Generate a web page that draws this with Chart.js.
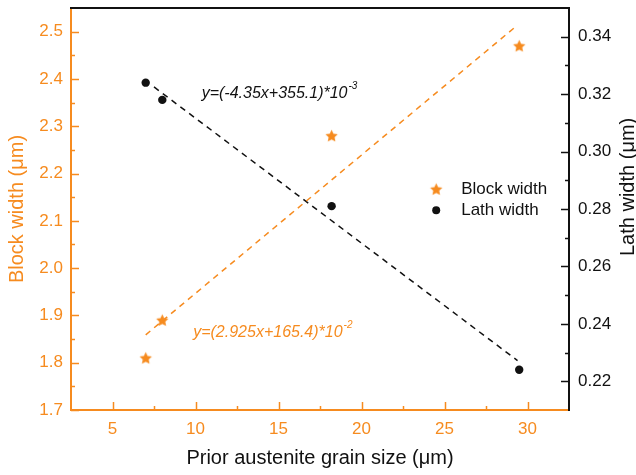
<!DOCTYPE html>
<html>
<head>
<meta charset="utf-8">
<script src="https://cdn.jsdelivr.net/npm/chart.js@4/dist/chart.umd.min.js"></script>
<style>
body { margin: 0; background: #fff; }
#wrap { width: 636px; height: 475px; }
</style>
</head>
<body>
<div id="wrap"><canvas id="grainChart"></canvas></div>
<script>
// Block and lath width against prior austenite grain size

var grainSize = [7, 8, 18.2, 29.5];
var blockWidth = [1.81, 1.89, 2.28, 2.47];
var lathWidth = [0.324, 0.318, 0.281, 0.224];

// end points of the dashed linear fits
var blockFitX = [7, 29.2];
var blockFitY = [1.859, 2.508];
var lathFitX = [7.5, 29.4];
var lathFitY = [0.3225, 0.2272];

var xTicks = [5, 10, 15, 20, 25, 30];
var xMinor = [7.5, 12.5, 17.5, 22.5, 27.5];
var blockTicks = [1.7, 1.8, 1.9, 2.0, 2.1, 2.2, 2.3, 2.4, 2.5];
var blockMinor = [1.75, 1.85, 1.95, 2.05, 2.15, 2.25, 2.35, 2.45];
var lathTicks = [0.22, 0.24, 0.26, 0.28, 0.30, 0.32, 0.34];
var lathMinor = [0.23, 0.25, 0.27, 0.29, 0.31, 0.33];

var orange = '#f68b1f';
var black = '#111111';
var fontFamily = "'Liberation Sans', Arial, sans-serif";

function pairs(xs, ys) {
    return xs.map(function (x, i) { return { x: x, y: ys[i] }; });
}

function makeStar(r, color) {
    var c = document.createElement('canvas');
    var s = Math.ceil(r * 2) + 2;
    c.width = s;
    c.height = s;
    var g = c.getContext('2d');
    g.fillStyle = color;
    g.beginPath();
    for (var i = 0; i < 10; i++) {
        var rad = i % 2 === 0 ? r : r * 0.48;
        var ang = -Math.PI / 2 + i * Math.PI / 5;
        g.lineTo(s / 2 + rad * Math.cos(ang), s / 2 + rad * Math.sin(ang) + 0.6);
    }
    g.closePath();
    g.fill();
    return c;
}

var star = makeStar(6.5, orange);

function setTicks(list) {
    return function (scale) {
        scale.ticks = list.map(function (v) { return { value: v }; });
    };
}

function fixWidth(w) {
    return function (s) {
        s.width = w;
        s.paddingTop = 0;
        s.paddingBottom = 0;
    };
}

// inward tick marks, top frame, right title, equations and legend
var decorPlugin = {
    id: 'decor',
    afterDraw: function (chart) {
        var ctx = chart.ctx, a = chart.chartArea;
        var sx = chart.scales.x, sy = chart.scales.y, sy1 = chart.scales.y1;
        ctx.save();

        ctx.strokeStyle = black;
        ctx.lineWidth = 2;
        ctx.beginPath();
        ctx.moveTo(a.left - 1, a.top);
        ctx.lineTo(a.right + 1, a.top);
        ctx.stroke();

        ctx.lineWidth = 1.5;
        function xMarks(vals, len) {
            ctx.strokeStyle = orange;
            vals.forEach(function (v) {
                var p = Math.round(sx.getPixelForValue(v)) + 0.5;
                ctx.beginPath();
                ctx.moveTo(p, a.bottom);
                ctx.lineTo(p, a.bottom - len);
                ctx.stroke();
            });
        }
        function yMarks(scale, vals, len, color, x0, dir) {
            ctx.strokeStyle = color;
            vals.forEach(function (v) {
                var p = Math.round(scale.getPixelForValue(v)) + 0.5;
                ctx.beginPath();
                ctx.moveTo(x0, p);
                ctx.lineTo(x0 + dir * len, p);
                ctx.stroke();
            });
        }
        xMarks(xTicks, 8);
        xMarks(xMinor, 4);
        yMarks(sy, blockTicks, 8, orange, a.left, 1);
        yMarks(sy, blockMinor, 4, orange, a.left, 1);
        yMarks(sy1, lathTicks, 8, black, a.right, -1);
        yMarks(sy1, lathMinor, 4, black, a.right, -1);

        // right axis title, reading bottom to top
        ctx.fillStyle = black;
        ctx.font = '20px ' + fontFamily;
        ctx.textAlign = 'center';
        ctx.textBaseline = 'middle';
        ctx.translate(chart.width - 8, a.top + (a.bottom - a.top) * 0.445);
        ctx.rotate(-Math.PI / 2);
        ctx.fillText('Lath width (\u03bcm)', 0, 0);
        ctx.setTransform(1, 0, 0, 1, 0, 0);

        // fit equations
        function equation(text, sup, color, x, y) {
            ctx.fillStyle = color;
            ctx.textAlign = 'left';
            ctx.textBaseline = 'alphabetic';
            ctx.font = 'italic 16px ' + fontFamily;
            ctx.fillText(text, x, y);
            var w = ctx.measureText(text).width;
            ctx.font = 'italic 10px ' + fontFamily;
            ctx.fillText(sup, w + x + 1, y - 9);
        }
        equation('y=(-4.35x+355.1)*10', '-3', black,
            sx.getPixelForValue(10.37), sy1.getPixelForValue(0.3186));
        equation('y=(2.925x+165.4)*10', '-2', orange,
            sx.getPixelForValue(9.86), sy.getPixelForValue(1.855));

        // legend
        var lx = sx.getPixelForValue(24.5), ly = sy.getPixelForValue(2.167);
        ctx.drawImage(star, lx - star.width / 2, ly - star.height / 2);
        ctx.fillStyle = black;
        ctx.beginPath();
        ctx.arc(lx, ly + 21, 4, 0, Math.PI * 2);
        ctx.fill();
        ctx.font = '17px ' + fontFamily;
        ctx.textAlign = 'left';
        ctx.textBaseline = 'middle';
        ctx.fillText('Block width', lx + 25, ly);
        ctx.fillText('Lath width', lx + 25, ly + 21);

        ctx.restore();
    }
};

var ctx = document.getElementById('grainChart');

var grainChart = new Chart(ctx, {
    type: 'scatter',
    data: {
        datasets: [{
            label: 'Block width fit',
            data: pairs(blockFitX, blockFitY),
            yAxisID: 'y',
            showLine: true,
            borderColor: orange,
            borderWidth: 1.5,
            borderDash: [6, 5],
            pointRadius: 0
        }, {
            label: 'Lath width fit',
            data: pairs(lathFitX, lathFitY),
            yAxisID: 'y1',
            showLine: true,
            borderColor: black,
            borderWidth: 1.5,
            borderDash: [6, 5],
            pointRadius: 0
        }, {
            label: 'Block width',
            data: pairs(grainSize, blockWidth),
            yAxisID: 'y',
            pointStyle: star,
            backgroundColor: orange,
            borderColor: orange
        }, {
            label: 'Lath width',
            data: pairs(grainSize, lathWidth),
            yAxisID: 'y1',
            pointStyle: 'circle',
            pointRadius: 4.2,
            backgroundColor: black,
            borderColor: black,
            borderWidth: 0
        }]
    },
    options: {
        responsive: true,
        maintainAspectRatio: false,
        animation: false,
        layout: { padding: { top: 8, left: 0, right: 0, bottom: 0 } },
        plugins: {
            legend: { display: false },
            tooltip: { enabled: false }
        },
        scales: {
            x: {
                type: 'linear',
                min: 2.5,
                max: 32.5,
                afterBuildTicks: setTicks(xTicks),
                afterFit: function (s) { s.height = 65; s.paddingLeft = 0; s.paddingRight = 0; },
                grid: { display: false, drawTicks: false },
                border: { display: true, color: orange, width: 2 },
                ticks: {
                    color: orange,
                    padding: 9,
                    font: { family: fontFamily, size: 17 },
                    callback: function (v) { return v; }
                },
                title: {
                    display: true,
                    text: 'Prior austenite grain size (\u03bcm)',
                    color: black,
                    font: { family: fontFamily, size: 20 },
                    padding: { top: 4, bottom: 5 }
                }
            },
            y: {
                position: 'left',
                min: 1.7,
                max: 2.55,
                afterBuildTicks: setTicks(blockTicks),
                afterFit: fixWidth(71),
                grid: { display: false, drawTicks: false },
                border: { display: true, color: orange, width: 2 },
                ticks: {
                    color: orange,
                    padding: 8,
                    font: { family: fontFamily, size: 17 },
                    callback: function (v) { return v.toFixed(1); }
                },
                title: {
                    display: true,
                    text: 'Block width (\u03bcm)',
                    color: orange,
                    font: { family: fontFamily, size: 20 },
                    padding: { top: 5, bottom: 4 }
                }
            },
            y1: {
                position: 'right',
                min: 0.21,
                max: 0.35,
                afterBuildTicks: setTicks(lathTicks),
                afterFit: fixWidth(67),
                grid: { display: false, drawTicks: false },
                border: { display: true, color: black, width: 2 },
                ticks: {
                    color: black,
                    padding: 9,
                    font: { family: fontFamily, size: 17 },
                    callback: function (v) { return v.toFixed(2); }
                }
            }
        }
    },
    plugins: [decorPlugin]
});
</script>
</body>
</html>
